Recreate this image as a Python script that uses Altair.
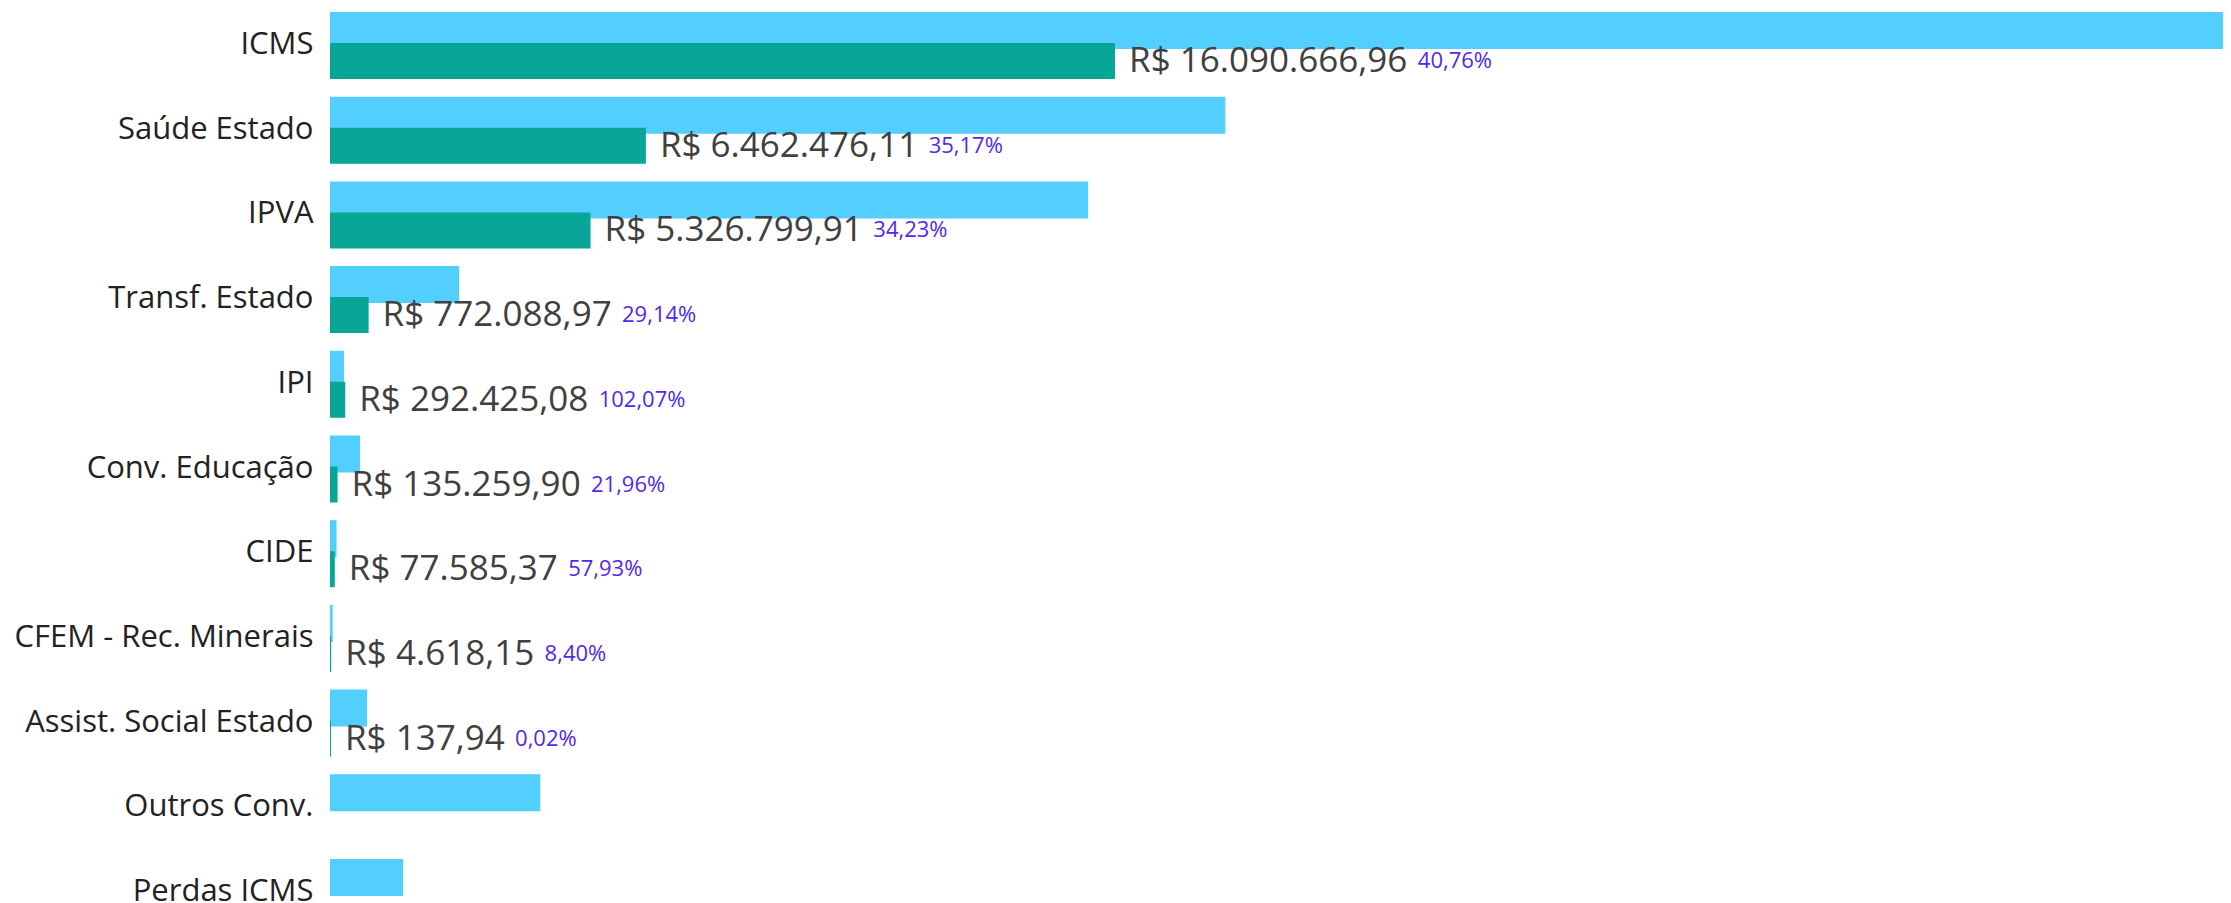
import altair as alt
import pandas as pd

# ---- data ----
categorias = ["ICMS", "Saúde Estado", "IPVA", "Transf. Estado", "IPI", "Conv. Educação",
              "CIDE", "CFEM - Rec. Minerais", "Assist. Social Estado", "Outros Conv.", "Perdas ICMS"]
realizado = [16090666.96, 6462476.11, 5326799.91, 772088.97, 292425.08, 135259.90,
             77585.37, 4618.15, 137.94, None, None]
previsto = [39480000, 18375000, 15560000, 2650000, 286500, 616000,
            134000, 55000, 760000, 4316000, 1500000]
percentual = [40.76, 35.17, 34.23, 29.14, 102.07, 21.96, 57.93, 8.40, 0.02, None, None]

BLUE = "#52CEFF"
TEAL = "#08A696"
PURPLE = "#5028F0"
VAL_SIZE = 35
FONT = "Open Sans"
PLOT_W = 1893
X_MAX = 38.85e6


def brl(v):
    s = f"{v:,.2f}"
    return "R$ " + s.replace(",", "X").replace(".", ",").replace("X", ".")


def pct_txt(p):
    return f"{p:.2f}".replace(".", ",") + "%"


# approximate advance widths (em) of the value-label font, used to place the % label after it
ADV = {"R": 0.631, "$": 0.572, " ": 0.26, ".": 0.266, ",": 0.25}


def text_px(s, size=VAL_SIZE):
    return sum(ADV.get(ch, 0.572) for ch in s) * size


rows = []
for c, r, p, pc in zip(categorias, realizado, previsto, percentual):
    row = {"categoria": c, "previsto": p}
    if r is not None:
        lab = brl(r)
        row.update(realizado=r, rotulo=lab, pct=pct_txt(pc), pct_dx=15 + text_px(lab) + 10)
    rows.append(row)
df = pd.DataFrame(rows)

y_enc = alt.Y(
    "categoria:N",
    sort=categorias,
    scale=alt.Scale(range=[-4.35, 927.35], paddingInner=0, paddingOuter=0),
    axis=alt.Axis(title=None, ticks=False, domain=False, grid=False, labelPadding=17,
                  labelLimit=400, labelFont=FONT, labelFontSize=31, labelColor="#222222",
                  labelOffset=-1),
)
x_scale = alt.Scale(domain=[0, X_MAX], nice=False, zero=True)

base = alt.Chart(df)

blue = base.mark_bar(color=BLUE, size=37, yOffset=-15.5, clip=True).encode(
    y=y_enc,
    x=alt.X("previsto:Q", scale=x_scale, axis=None),
)

real = base.transform_filter("isValid(datum.realizado)")

teal = real.mark_bar(color=TEAL, stroke=TEAL, strokeWidth=2, size=34, yOffset=15, clip=True).encode(
    y=y_enc,
    x=alt.X("realizado:Q", scale=x_scale, axis=None),
)

valor = real.mark_text(align="left", baseline="middle", dx=15, yOffset=15, font=FONT,
                       fontSize=VAL_SIZE, color="#404040").encode(
    y=y_enc,
    x=alt.X("realizado:Q", scale=x_scale, axis=None),
    text="rotulo:N",
)

perc = real.transform_calculate(
    x_pct=f"datum.realizado + datum.pct_dx * {X_MAX} / {PLOT_W}"
).mark_text(align="left", baseline="middle", yOffset=15, font=FONT,
            fontSize=22, color=PURPLE).encode(
    y=y_enc,
    x=alt.X("x_pct:Q", scale=x_scale, axis=None),
    text="pct:N",
)

chart = alt.layer(blue, teal, valor, perc).properties(
    width=PLOT_W,
    height=895,
    autosize=alt.AutoSizeParams(type="none"),
    padding={"left": 322, "top": 0, "right": 0, "bottom": 0},
).configure_view(stroke=None)

chart.save("out.html", embed_options={"renderer": "svg", "actions": False})
